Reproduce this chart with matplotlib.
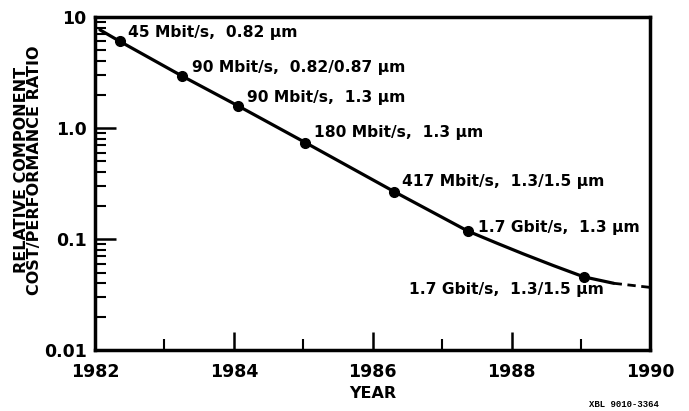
import matplotlib
matplotlib.use("Agg")
import matplotlib.pyplot as plt
from matplotlib.ticker import FixedLocator, NullFormatter

plt.rcParams["font.family"] = ["DejaVu Sans"]
plt.rcParams["font.weight"] = "bold"

# measured points (year, relative cost/performance)
years = [1982.36, 1983.25, 1984.06, 1985.03, 1986.31, 1987.37, 1989.04]
ratio = [6.0, 2.94, 1.58, 0.738, 0.267, 0.118, 0.0457]
labels = [
    "45 Mbit/s,  0.82 µm",
    "90 Mbit/s,  0.82/0.87 µm",
    "90 Mbit/s,  1.3 µm",
    "180 Mbit/s,  1.3 µm",
    "417 Mbit/s,  1.3/1.5 µm",
    "1.7 Gbit/s,  1.3 µm",
    "1.7 Gbit/s,  1.3/1.5 µm",
]

# solid trend curve
curve_years = [1982.07, 1982.36, 1983.25, 1984.06, 1985.03, 1986.31, 1987.37,
               1987.8, 1988.17, 1988.6, 1989.04, 1989.47]
curve_ratio = [7.64, 6.0, 2.94, 1.58, 0.738, 0.267, 0.118,
               0.0912, 0.0735, 0.0578, 0.0457, 0.040]
# dashed extrapolation
dash_years = [1989.47, 1990.0]
dash_ratio = [0.040, 0.0367]

xticks = [1982, 1984, 1986, 1988, 1990]
yticks = [0.01, 0.1, 1.0, 10]
ytick_labels = ["0.01", "0.1", "1.0", "10"]

# label offsets in pixels from each point
offsets = [(8, 9), (10, 8), (9, 8), (9, 10), (8, 10), (10, 4), (20, -13)]
aligns = ["left"] * 6 + ["right"]

fig = plt.figure(figsize=(6.89, 4.11), dpi=100)
ax = fig.add_axes([0.138, 0.148, 0.806, 0.811])

ax.plot(curve_years, curve_ratio, color="black", lw=2.3, solid_capstyle="round")
ax.plot(dash_years, dash_ratio, color="black", lw=2.0, ls=(0, (3, 2)))
ax.plot(years, ratio, "o", color="black", ms=7)

for x, y, lab, off, ha in zip(years, ratio, labels, offsets, aligns):
    ax.annotate(lab, (x, y), xytext=off, textcoords="offset pixels",
                ha=ha, va="center", fontsize=11.2, fontweight="bold")

ax.set_yscale("log")
ax.set_xlim(1982, 1990)
ax.set_ylim(0.01, 10)

ax.set_xticks(xticks)
ax.set_xticklabels([str(t) for t in xticks])
ax.xaxis.set_minor_locator(FixedLocator([1983, 1985, 1987, 1989]))
ax.set_yticks(yticks)
ax.set_yticklabels(ytick_labels)
ax.yaxis.set_minor_formatter(NullFormatter())

ax.tick_params(axis="both", which="major", direction="in", labelsize=12.5,
               width=1.8)
ax.tick_params(axis="x", which="major", length=13, pad=9)
ax.tick_params(axis="y", which="major", length=15, pad=6)
ax.tick_params(axis="both", which="minor", direction="in", length=8, width=1.5)
for t in ax.get_xticklabels() + ax.get_yticklabels():
    t.set_fontweight("bold")

for s in ax.spines.values():
    s.set_linewidth(2.5)

ax.set_xlabel("YEAR", fontsize=11.5, fontweight="bold", labelpad=4)
ax.set_ylabel("RELATIVE COMPONENT\nCOST/PERFORMANCE RATIO", fontsize=11.5,
              fontweight="bold", linespacing=0.88)
ax.yaxis.set_label_coords(-0.095, 0.54)

fig.text(0.905, 0.01, "XBL 9010-3364", fontsize=6.5, fontweight="bold",
         family=["Liberation Mono", "DejaVu Sans Mono"], ha="center")

fig.savefig("out.png", dpi=100)
